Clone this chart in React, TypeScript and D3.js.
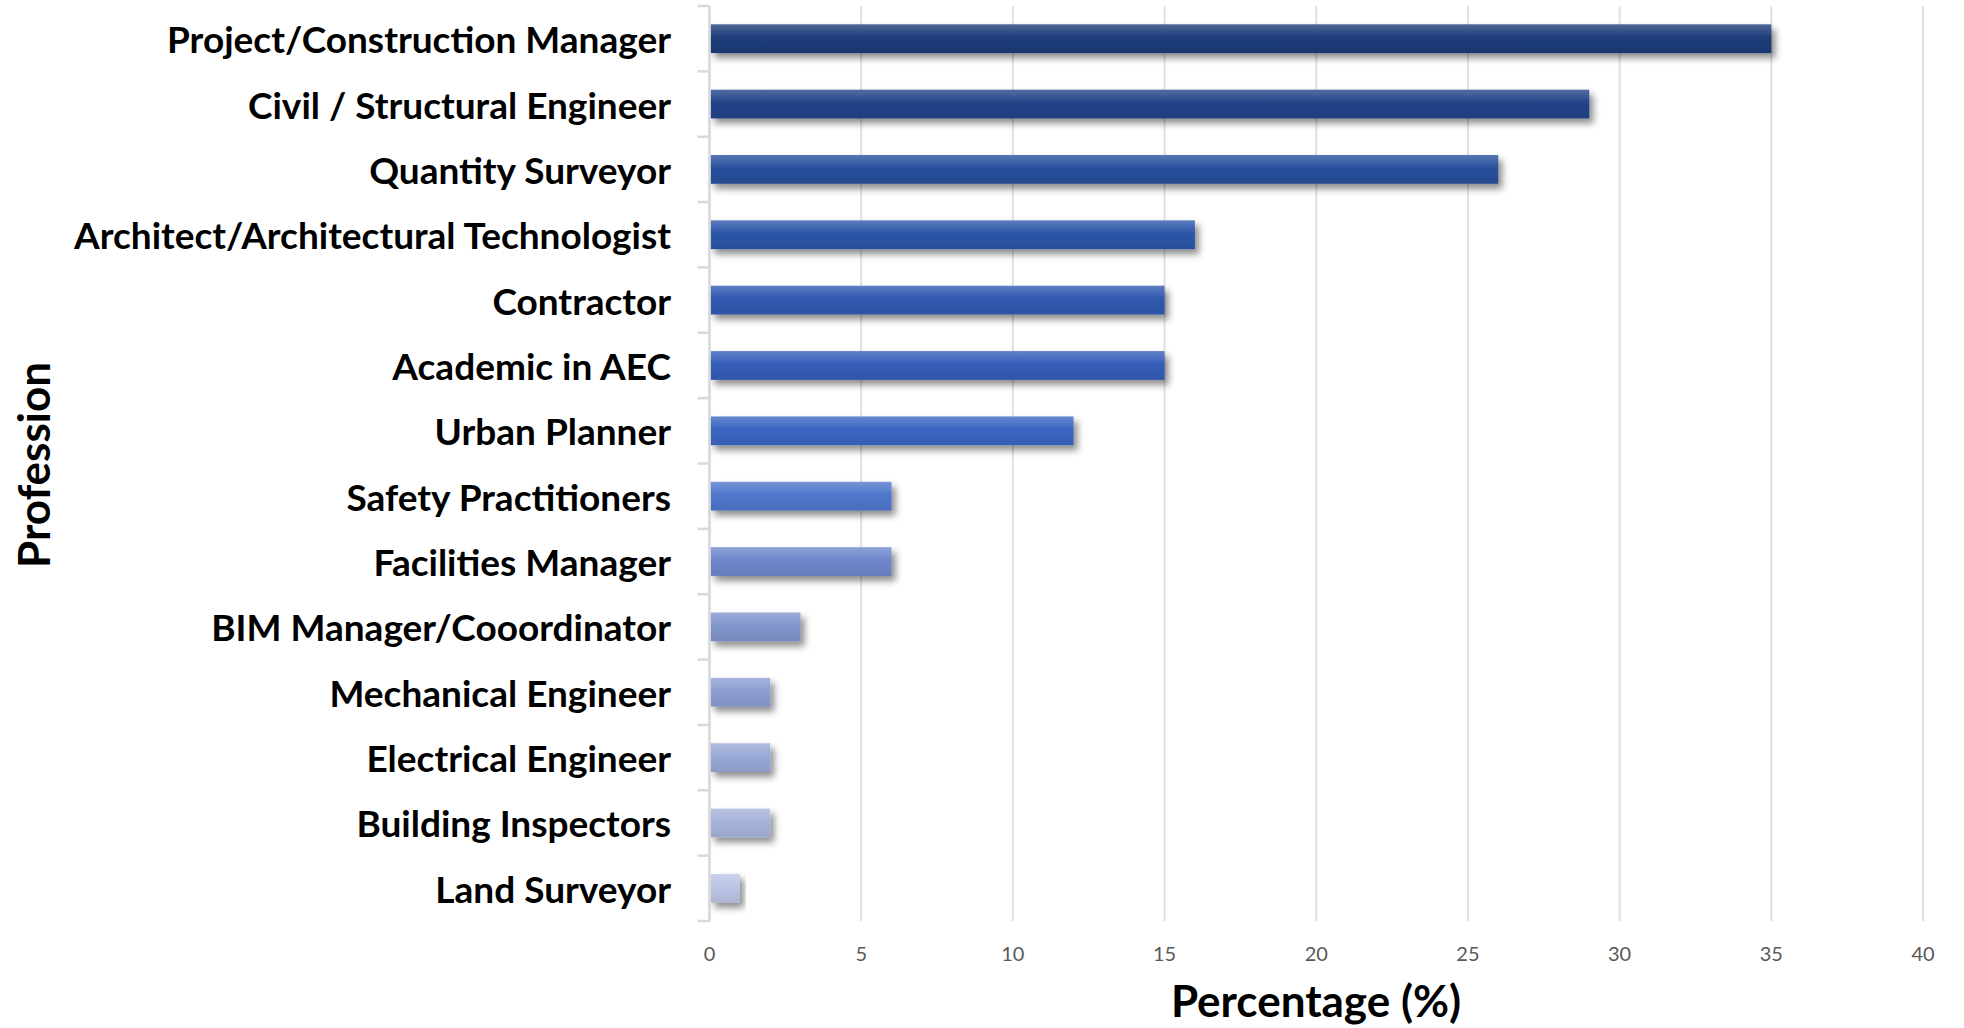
import React from "react";
import * as d3 from "d3";

const categories = [
  "Project/Construction Manager",
  "Civil / Structural Engineer",
  "Quantity Surveyor",
  "Architect/Architectural Technologist",
  "Contractor",
  "Academic in AEC",
  "Urban Planner",
  "Safety Practitioners",
  "Facilities Manager",
  "BIM Manager/Cooordinator",
  "Mechanical Engineer",
  "Electrical Engineer",
  "Building Inspectors",
  "Land Surveyor",
];
const values = [35, 29, 26, 16, 15, 15, 12, 6, 6, 3, 2, 2, 2, 1];
const barColors = [
  "#1f3d7a", "#22448a", "#28509c", "#2c56a8", "#3159b0", "#345db8",
  "#3b66c2", "#4f77cc", "#6f88cc", "#8095cc", "#8c9ed2", "#99a8d7",
  "#a6b3dc", "#bcc5e6",
];
const xTicks = [0, 5, 10, 15, 20, 25, 30, 35, 40];

const W = 1964;
const H = 1028;
const left = 709.5;
const right = 1923;
const top = 6;
const bottom = 921;

export default function App() {
  const x = d3.scaleLinear().domain([0, 40]).range([left, right]);
  const y = d3.scaleBand().domain(categories).range([top, bottom]).paddingInner(0.56).paddingOuter(0.28);
  const step = y.step();
  const font = "Lato, 'Open Sans', sans-serif";
  return (
    <svg width={W} height={H} style={{ position: "absolute", left: 0, top: 0, background: "#fff" }}>
      <defs>
        <filter id="shadow" x="-10%" y="-50%" width="130%" height="250%">
          <feDropShadow dx="4" dy="5" stdDeviation="3.5" floodColor="#000" floodOpacity="0.45" />
        </filter>
        {barColors.map((c, i) => (
          <linearGradient key={i} id={`g${i}`} x1="0" y1="0" x2="0" y2="1">
            <stop offset="0" stopColor={d3.interpolateRgb(c, "#ffffff")(0.22)} />
            <stop offset="0.45" stopColor={c} />
            <stop offset="1" stopColor={d3.interpolateRgb(c, "#000000")(0.08)} />
          </linearGradient>
        ))}
      </defs>
      {xTicks.map((t) => (
        <line key={t} x1={x(t)} x2={x(t)} y1={top} y2={bottom} stroke="#e0e0e0" strokeWidth={2} />
      ))}
      {categories.map((c, i) => (
        <rect
          key={c}
          x={x(0) + 1}
          y={y(c)!}
          width={x(values[i]) - x(0) - 1}
          height={y.bandwidth()}
          fill={`url(#g${i})`}
          filter="url(#shadow)"
        />
      ))}
      <line x1={left} x2={left} y1={top} y2={bottom + 1} stroke="#d9d9d9" strokeWidth={2.5} />
      {d3.range(categories.length + 1).map((i) => (
        <line key={i} x1={left - 12} x2={left} y1={top + i * step} y2={top + i * step} stroke="#d9d9d9" strokeWidth={2.5} />
      ))}
      {categories.map((c) => (
        <text
          key={c}
          x={671}
          y={y(c)! + y.bandwidth() / 2}
          textAnchor="end"
          dominantBaseline="central"
          fontFamily={font}
          fontWeight="bold"
          fontSize={37}
          fill="#000"
        >
          {c}
        </text>
      ))}
      {xTicks.map((t) => (
        <text key={t} x={x(t)} y={953} textAnchor="middle" dominantBaseline="central" fontFamily={font} fontSize={20} fill="#595959">
          {t}
        </text>
      ))}
      <text x={1316} y={1000} textAnchor="middle" dominantBaseline="central" fontFamily={font} fontWeight="bold" fontSize={44} fill="#000">
        Percentage (%)
      </text>
      <text
        transform={`translate(33,465) rotate(-90)`}
        textAnchor="middle"
        dominantBaseline="central"
        fontFamily={font}
        fontWeight="bold"
        fontSize={44}
        fill="#000"
      >
        Profession
      </text>
    </svg>
  );
}
